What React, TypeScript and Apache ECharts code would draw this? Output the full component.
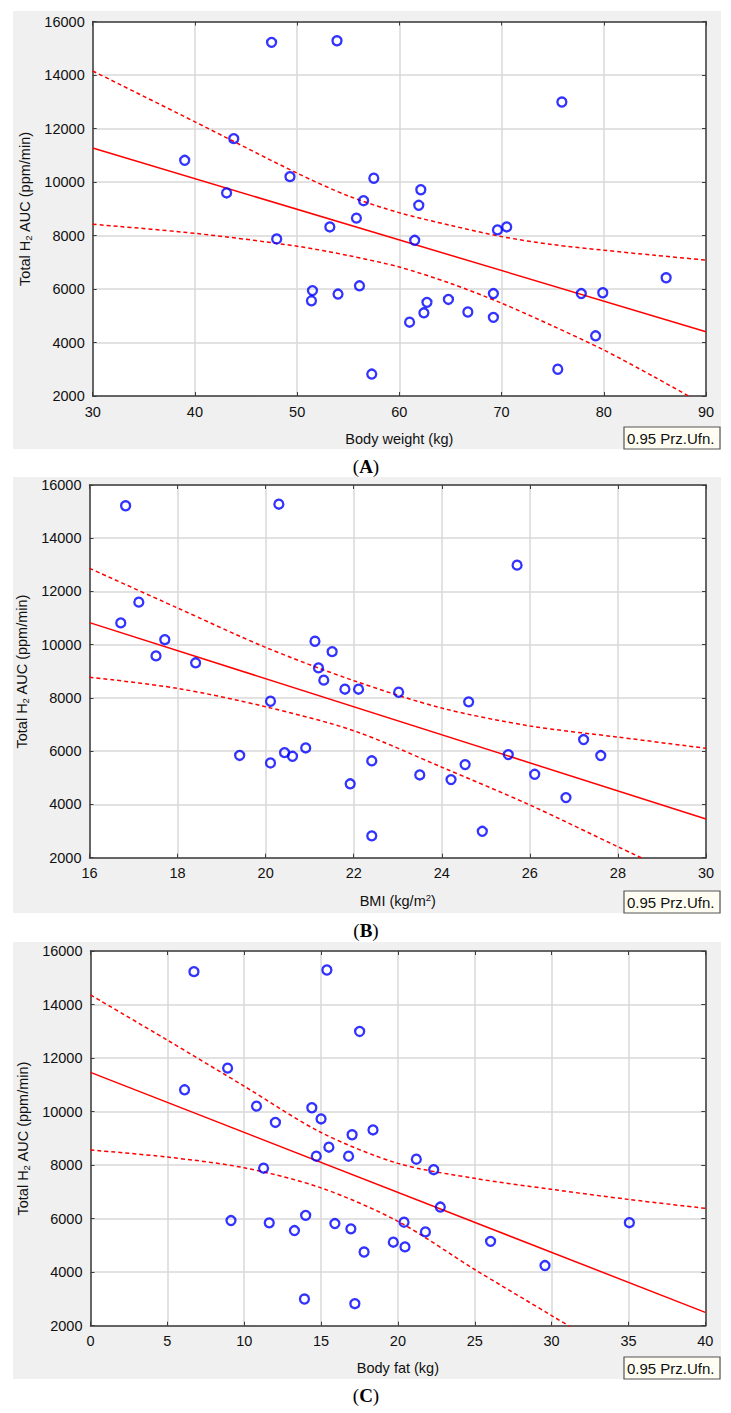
import React, { useEffect, useRef } from "react";
import * as echarts from "echarts";

// ---------- Data ----------
// Panel A: Body weight (kg) vs Total H2 AUC
const weightKg = [47.5, 53.9, 43.8, 39.0, 49.3, 57.5, 43.1, 56.5, 55.8, 53.2, 48.0, 51.5, 51.4, 54.0, 56.1, 57.3, 75.9, 62.1, 61.9, 69.6, 70.5, 61.5, 86.1, 77.8, 79.9, 69.2, 64.8, 62.7, 62.4, 66.7, 69.2, 61.0, 79.2, 75.5];
const aucA = [15220, 15280, 11620, 10810, 10200, 10140, 9590, 9300, 8650, 8320, 7870, 5940, 5560, 5810, 6120, 2820, 12990, 9710, 9130, 8210, 8320, 7820, 6420, 5830, 5860, 5830, 5610, 5500, 5110, 5140, 4940, 4760, 4250, 3000];
const fitXA = [30, 90];
const fitYA = [11270, 4400];
const ciXA = [30, 40, 50, 55, 60, 65, 70, 75, 80, 85, 90];
const ciUpperA = [14150, 12250, 10330, 9480, 8850, 8380, 7960, 7660, 7450, 7260, 7080];
const ciLowerA = [8420, 8080, 7600, 7250, 6820, 6210, 5470, 4620, 3720, 2700, 1640];

// Panel B: BMI vs Total H2 AUC
const bmi = [16.82, 20.3, 25.71, 17.12, 16.71, 17.71, 17.51, 18.41, 21.12, 21.51, 21.2, 21.32, 21.8, 22.11, 23.02, 20.11, 24.61, 19.41, 20.11, 20.43, 20.61, 20.91, 22.41, 21.92, 22.41, 23.5, 24.21, 24.53, 24.92, 25.51, 26.11, 26.82, 27.22, 27.61];
const aucB = [15220, 15280, 12990, 11600, 10820, 10190, 9580, 9320, 10130, 9740, 9130, 8670, 8330, 8330, 8215, 7877, 7854, 5840, 5558, 5946, 5810, 6122, 5640, 4775, 2820, 5109, 4933, 5497, 2991, 5873, 5134, 4257, 6437, 5836];
const fitXB = [16, 30];
const fitYB = [10830, 3455];
const ciXB = [16, 18, 20, 22, 24, 26, 28, 30];
const ciUpperB = [12870, 11380, 9900, 8650, 7620, 6950, 6530, 6110];
const ciLowerB = [8780, 8360, 7670, 6770, 5400, 3980, 2410, 850];

// Panel C: Body fat (kg) vs Total H2 AUC
const fatKg = [6.73, 15.38, 17.51, 8.92, 6.12, 10.8, 14.4, 15.0, 12.03, 17.02, 18.38, 15.51, 14.69, 16.79, 11.26, 21.2, 22.33, 22.76, 9.14, 11.63, 13.27, 14.0, 15.9, 16.94, 20.4, 21.79, 19.7, 20.46, 17.8, 26.03, 29.57, 35.06, 13.92, 17.2];
const aucC = [15228, 15290, 12993, 11625, 10815, 10205, 10143, 9726, 9595, 9134, 9315, 8669, 8332, 8332, 7884, 8220, 7828, 6434, 5928, 5842, 5555, 6121, 5816, 5618, 5866, 5505, 5120, 4945, 4753, 5151, 4248, 5848, 2997, 2823];
const fitXC = [0, 40];
const fitYC = [11466, 2498];
const ciXC = [0, 5, 10, 15, 20, 25, 30, 35, 40];
const ciUpperC = [14360, 12670, 10950, 9220, 8065, 7505, 7094, 6720, 6384];
const ciLowerC = [8565, 8300, 7900, 7150, 5900, 4100, 2380, 650, -1100];

const yMin = 2000;
const yMax = 16000;
const yStep = 2000;

const panelLetters = ["A", "B", "C"];
const legendText = "0.95 Prz.Ufn.";
const yTitle = "Total H{sub|2} AUC (ppm/min)";
const xTitles = ["Body weight (kg)", "BMI (kg/m{sup|2})", "Body fat (kg)"];

// ---------- Layout ----------
const FONT = "'Liberation Sans', Arial, Helvetica, sans-serif";
const SERIF = "'Liberation Serif', 'DejaVu Serif', 'Times New Roman', serif";
const grids = [
  { left: 92.7, top: 21.5, width: 613.3, height: 374.5 },
  { left: 89.5, top: 485, width: 616.5, height: 372.7 },
  { left: 90.5, top: 951, width: 614.8, height: 374.7 },
];
const panelBg = [
  { y: 11, h: 438 },
  { y: 477, h: 436 },
  { y: 942, h: 437 },
];
const labelY = [466, 930, 1395];
const xRanges = [
  { min: 30, max: 90, interval: 10 },
  { min: 16, max: 30, interval: 2 },
  { min: 0, max: 40, interval: 5 },
];

const zip = (xs: number[], ys: number[]) => xs.map((x, i) => [x, ys[i]]);

function buildOption() {
  const xAxis: any[] = [];
  const yAxis: any[] = [];
  const series: any[] = [];
  const axisColor = "#3c3c3c";
  const gridLine = { show: true, lineStyle: { color: "#d9d9d9", width: 1.5 } };

  const panels = [
    { pts: zip(weightKg, aucA), fit: zip(fitXA, fitYA), up: zip(ciXA, ciUpperA), lo: zip(ciXA, ciLowerA) },
    { pts: zip(bmi, aucB), fit: zip(fitXB, fitYB), up: zip(ciXB, ciUpperB), lo: zip(ciXB, ciLowerB) },
    { pts: zip(fatKg, aucC), fit: zip(fitXC, fitYC), up: zip(ciXC, ciUpperC), lo: zip(ciXC, ciLowerC) },
  ];

  panels.forEach((p, i) => {
    const r = xRanges[i];
    xAxis.push({
      gridIndex: i, type: "value", position: "bottom", min: r.min, max: r.max, interval: r.interval,
      name: xTitles[i], nameLocation: "middle", nameGap: 35,
      nameTextStyle: { fontFamily: FONT, fontSize: 14.5, color: "#111", rich: { sup: { fontFamily: FONT, fontSize: 9.5, color: "#111", padding: [0, 0, 7, 0] } } },
      axisLine: { show: true, onZero: false, lineStyle: { color: axisColor, width: 1.5 } },
      axisTick: { show: true, inside: true, length: 4, lineStyle: { color: axisColor } },
      axisLabel: { color: "#111", fontSize: 14.5, fontFamily: FONT, margin: 8, formatter: (v: number) => String(v) },
      splitLine: gridLine,
    });
    xAxis.push({
      gridIndex: i, type: "value", position: "top", min: r.min, max: r.max, interval: r.interval,
      axisLine: { show: true, onZero: false, lineStyle: { color: axisColor, width: 1.5 } },
      axisTick: { show: true, inside: true, length: 4, lineStyle: { color: axisColor } },
      axisLabel: { show: false }, splitLine: { show: false },
    });
    yAxis.push({
      gridIndex: i, type: "value", position: "left", min: yMin, max: yMax, interval: yStep,
      name: yTitle, nameLocation: "middle", nameGap: 59,
      nameTextStyle: { fontFamily: FONT, fontSize: 14.5, color: "#111", rich: { sub: { fontFamily: FONT, fontSize: 9.5, color: "#111", padding: [7, 0, 0, 0] } } },
      axisLine: { show: true, onZero: false, lineStyle: { color: axisColor, width: 1.5 } },
      axisTick: { show: true, inside: true, length: 4, lineStyle: { color: axisColor } },
      axisLabel: { color: "#111", fontSize: 14.5, fontFamily: FONT, margin: 8, formatter: (v: number) => String(v) },
      splitLine: gridLine,
    });
    yAxis.push({
      gridIndex: i, type: "value", position: "right", min: yMin, max: yMax, interval: yStep,
      axisLine: { show: true, onZero: false, lineStyle: { color: axisColor, width: 1.5 } },
      axisTick: { show: true, inside: true, length: 4, lineStyle: { color: axisColor } },
      axisLabel: { show: false }, splitLine: { show: false },
    });
    const xi = i * 2;
    const yi = i * 2;
    series.push({
      type: "line", xAxisIndex: xi, yAxisIndex: yi, data: p.fit, symbol: "none", clip: true, z: 3,
      lineStyle: { color: "#ff0000", width: 1.5 },
    });
    [p.up, p.lo].forEach((d) => {
      series.push({
        type: "line", xAxisIndex: xi, yAxisIndex: yi, data: d, symbol: "none", clip: true, z: 3,
        smooth: 0.3,
        lineStyle: { color: "#ff0000", width: 1.5, type: [4, 3] },
      });
    });
    series.push({
      type: "scatter", xAxisIndex: xi, yAxisIndex: yi, data: p.pts, symbol: "circle", symbolSize: 9, z: 5,
      itemStyle: { color: "rgba(255,255,255,0)", borderColor: "#0000ff", borderWidth: 2.3 },
    });
  });

  const graphic: any[] = [];
  panelBg.forEach((b, i) => {
    graphic.push({ type: "rect", z: -10, shape: { x: 13, y: b.y, width: 708, height: b.h }, style: { fill: "#f0f0f0" } });
    const by = b.y + b.h - 22;
    graphic.push({ type: "rect", z: 50, shape: { x: 624, y: by, width: 96, height: 22 }, style: { fill: "#fffdf2", stroke: "#555", lineWidth: 1.2 } });
    graphic.push({ type: "text", z: 51, x: 627, y: by + 11, style: { text: legendText, fontFamily: FONT, fontSize: 15, fill: "#111", align: "left", verticalAlign: "middle" } });
    graphic.push({
      type: "text", z: 51, x: 366, y: labelY[i],
      style: {
        text: "({b|" + panelLetters[i] + "})", fontFamily: SERIF, fontSize: 19, fill: "#000", align: "center", verticalAlign: "middle",
        rich: { b: { fontFamily: SERIF, fontSize: 19, fontWeight: "bold", fill: "#000" } },
      },
    });
  });

  return {
    animation: false,
    grid: grids.map((g) => ({ ...g, show: true, backgroundColor: "#ffffff", borderWidth: 0, containLabel: false })),
    xAxis, yAxis, series, graphic,
  };
}

export default function App() {
  const ref = useRef<HTMLDivElement>(null);
  useEffect(() => {
    if (!ref.current) return;
    const chart = echarts.init(ref.current, undefined, { renderer: "svg" });
    chart.setOption(buildOption() as any);
    return () => chart.dispose();
  }, []);
  return (
    <div
      ref={ref}
      style={{ position: "absolute", left: 0, top: 0, width: 731, height: 1413, background: "#ffffff" }}
    />
  );
}
